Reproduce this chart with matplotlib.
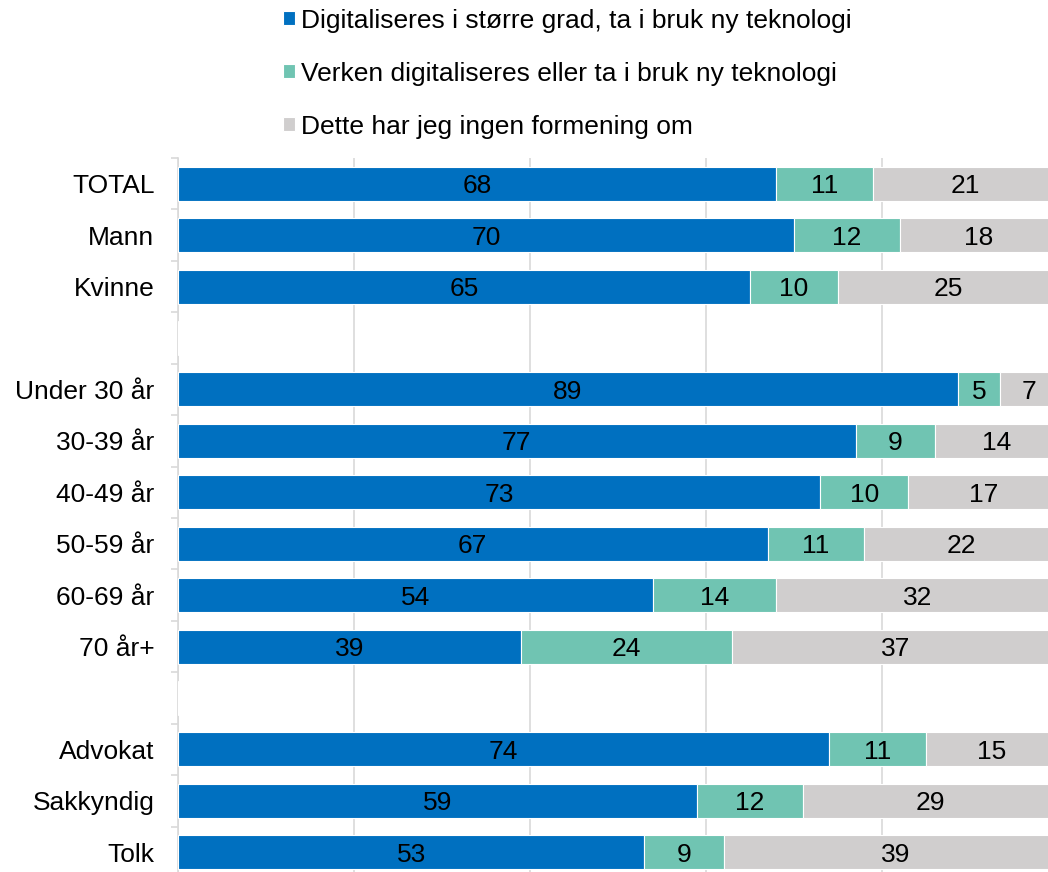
import matplotlib
matplotlib.use("Agg")
import matplotlib.pyplot as plt
import numpy as np

plt.rcParams["font.family"] = ["Liberation Sans", "DejaVu Sans"]

# rows top to bottom; None = spacer row between groups
categories = ["TOTAL", "Mann", "Kvinne", "",
              "Under 30 år", "30-39 år", "40-49 år", "50-59 år", "60-69 år", "70 år+", "",
              "Advokat", "Sakkyndig", "Tolk"]
digital = [68, 70, 65, None, 88.6, 77, 73, 67, 54, 39, None, 74, 59, 53]
neither = [11, 12, 10, None, 4.8, 9, 10, 11, 14, 24, None, 11, 12, 9]
no_opinion = [21, 18, 25, None, 6.6, 14, 17, 22, 32, 37, None, 15, 29, 39]

series_names = ["Digitaliseres i større grad, ta i bruk ny teknologi",
                "Verken digitaliseres eller ta i bruk ny teknologi",
                "Dette har jeg ingen formening om"]
colors = ["#0070C0", "#70C4B2", "#D0CECE"]

fig = plt.figure(figsize=(10.48, 8.72), dpi=100)
ax = fig.add_axes([178 / 1048, 1 - 878 / 872, 880 / 1048, 720 / 872])

n = len(categories)
y = np.arange(n)
left = np.zeros(n)
for name, vals, col in zip(series_names, [digital, neither, no_opinion], colors):
    v = np.array([np.nan if x is None else x for x in vals], dtype=float)
    ax.barh(y, np.nan_to_num(v), left=left, height=0.66, color=col,
            edgecolor="white", linewidth=0.8, label=name, zorder=3)
    for yi, (l, w) in enumerate(zip(left, v)):
        if not np.isnan(w):
            ax.text(l + w / 2, yi, f"{w:.0f}", ha="center", va="center_baseline",
                    fontsize=19, color="black", zorder=4)
    left += np.nan_to_num(v)

ax.set_xlim(0, 100)
ax.set_ylim(n - 0.5, -0.5)
ax.set_xticks([0, 20, 40, 60, 80, 100])
ax.tick_params(axis="x", length=0, labelbottom=False)
ax.grid(axis="x", color="#D9D9D9", linewidth=1.2, zorder=0)

ax.set_yticks(y)
ax.set_yticklabels(categories, fontsize=19)
ax.set_yticks(np.arange(n + 1) - 0.5, minor=True)
ax.tick_params(axis="y", which="major", length=0, pad=17)
ax.tick_params(axis="y", which="minor", length=5, color="#D9D9D9", width=1.2)

for s in ["top", "right", "bottom"]:
    ax.spines[s].set_visible(False)
ax.spines["left"].set_color("#D9D9D9")
ax.spines["left"].set_linewidth(1.2)

fig.legend(loc="upper left", bbox_to_anchor=(0.27, 0.99), frameon=False,
           fontsize=19, handlelength=0.45, handleheight=0.45, handletextpad=0.25,
           labelspacing=1.1, borderpad=0, borderaxespad=0)

fig.savefig("out.png", dpi=100)
